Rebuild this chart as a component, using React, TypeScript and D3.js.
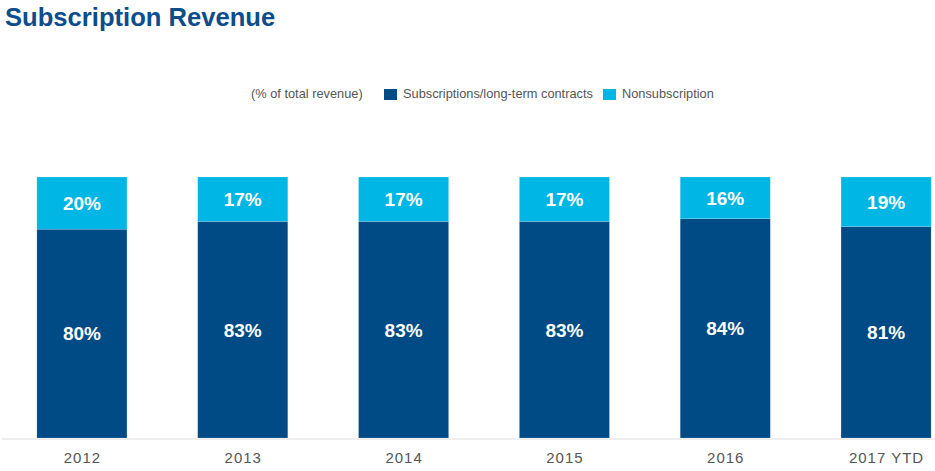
import React from "react";
import * as d3 from "d3";

const WIDTH = 935;
const HEIGHT = 471;

const years = ["2012", "2013", "2014", "2015", "2016", "2017 YTD"];
const subscription = [80, 83, 83, 83, 84, 81];
const nonsubscription = [20, 17, 17, 17, 16, 19];

const DARK = "#004a85";
const LIGHT = "#00b6e4";

const App = () => {
  const svgRef = React.useRef<SVGSVGElement>(null);

  React.useEffect(() => {
    const svg = d3.select(svgRef.current);
    svg.selectAll("*").remove();

    const x = d3
      .scaleBand()
      .domain(years)
      .range([1.5, 966.5])
      .paddingInner(0.44)
      .paddingOuter(0.22);

    const y = d3.scaleLinear().domain([0, 100]).range([438, 177]);

    const rows = years.map((year, i) => ({
      year,
      sub: subscription[i],
      non: nonsubscription[i],
    }));

    const stack = d3.stack().keys(["sub", "non"]);
    const series = stack(rows as any);
    const colors: any = { sub: DARK, non: LIGHT };

    // title
    svg
      .append("text")
      .attr("x", 5)
      .attr("y", 26)
      .attr("font-family", "Liberation Sans, Arial, sans-serif")
      .attr("font-weight", "bold")
      .attr("font-size", 25.6)
      .attr("fill", "#0e4d8b")
      .text("Subscription Revenue");

    // legend
    const legend = svg
      .append("g")
      .attr("font-family", "Liberation Sans, Arial, sans-serif")
      .attr("font-size", 12.8)
      .attr("fill", "#555");
    legend.append("text").attr("x", 251).attr("y", 98).text("(% of total revenue)");
    legend.append("rect").attr("x", 384).attr("y", 89).attr("width", 13).attr("height", 11).attr("fill", DARK);
    legend.append("text").attr("x", 403).attr("y", 98).text("Subscriptions/long-term contracts");
    legend.append("rect").attr("x", 603).attr("y", 89).attr("width", 13).attr("height", 11).attr("fill", LIGHT);
    legend.append("text").attr("x", 622).attr("y", 98).text("Nonsubscription");

    // bars
    const groups = svg
      .append("g")
      .selectAll("g")
      .data(series)
      .join("g")
      .attr("fill", (s: any) => colors[s.key]);

    groups
      .selectAll("rect")
      .data((s: any) => s)
      .join("rect")
      .attr("x", (d: any) => x(d.data.year))
      .attr("y", (d: any) => y(d[1]))
      .attr("width", x.bandwidth())
      .attr("height", (d: any) => y(d[0]) - y(d[1]))
      .attr("stroke", "rgba(255,255,255,0.25)")
      .attr("stroke-width", 0.6);

    // value labels
    const labels = svg
      .append("g")
      .attr("font-family", "Liberation Sans, Arial, sans-serif")
      .attr("font-weight", "bold")
      .attr("font-size", 19)
      .attr("fill", "#fff")
      .attr("text-anchor", "middle");

    series.forEach((s: any) => {
      labels
        .selectAll(null)
        .data(s)
        .join("text")
        .attr("x", (d: any) => (x(d.data.year) as number) + x.bandwidth() / 2)
        .attr("y", (d: any) => (y(d[0]) + y(d[1])) / 2)
        .attr("dy", "0.36em")
        .text((d: any) => `${d[1] - d[0]}%`);
    });

    // axis line
    svg
      .append("line")
      .attr("x1", 2)
      .attr("x2", WIDTH)
      .attr("y1", y(0) + 1)
      .attr("y2", y(0) + 1)
      .attr("stroke", "#dcdcdc")
      .attr("stroke-width", 1);

    // year labels
    svg
      .append("g")
      .attr("font-family", "Liberation Sans, Arial, sans-serif")
      .attr("font-size", 15)
      .attr("letter-spacing", 1)
      .attr("fill", "#555")
      .attr("text-anchor", "middle")
      .selectAll("text")
      .data(years)
      .join("text")
      .attr("x", (d: string) => (x(d) as number) + x.bandwidth() / 2 + 0.5)
      .attr("y", 463)
      .text((d: string) => d);
  }, []);

  return (
    <svg
      ref={svgRef}
      width={WIDTH}
      height={HEIGHT}
      style={{ position: "absolute", left: 0, top: 0, background: "#fff" }}
    />
  );
};

export default App;
